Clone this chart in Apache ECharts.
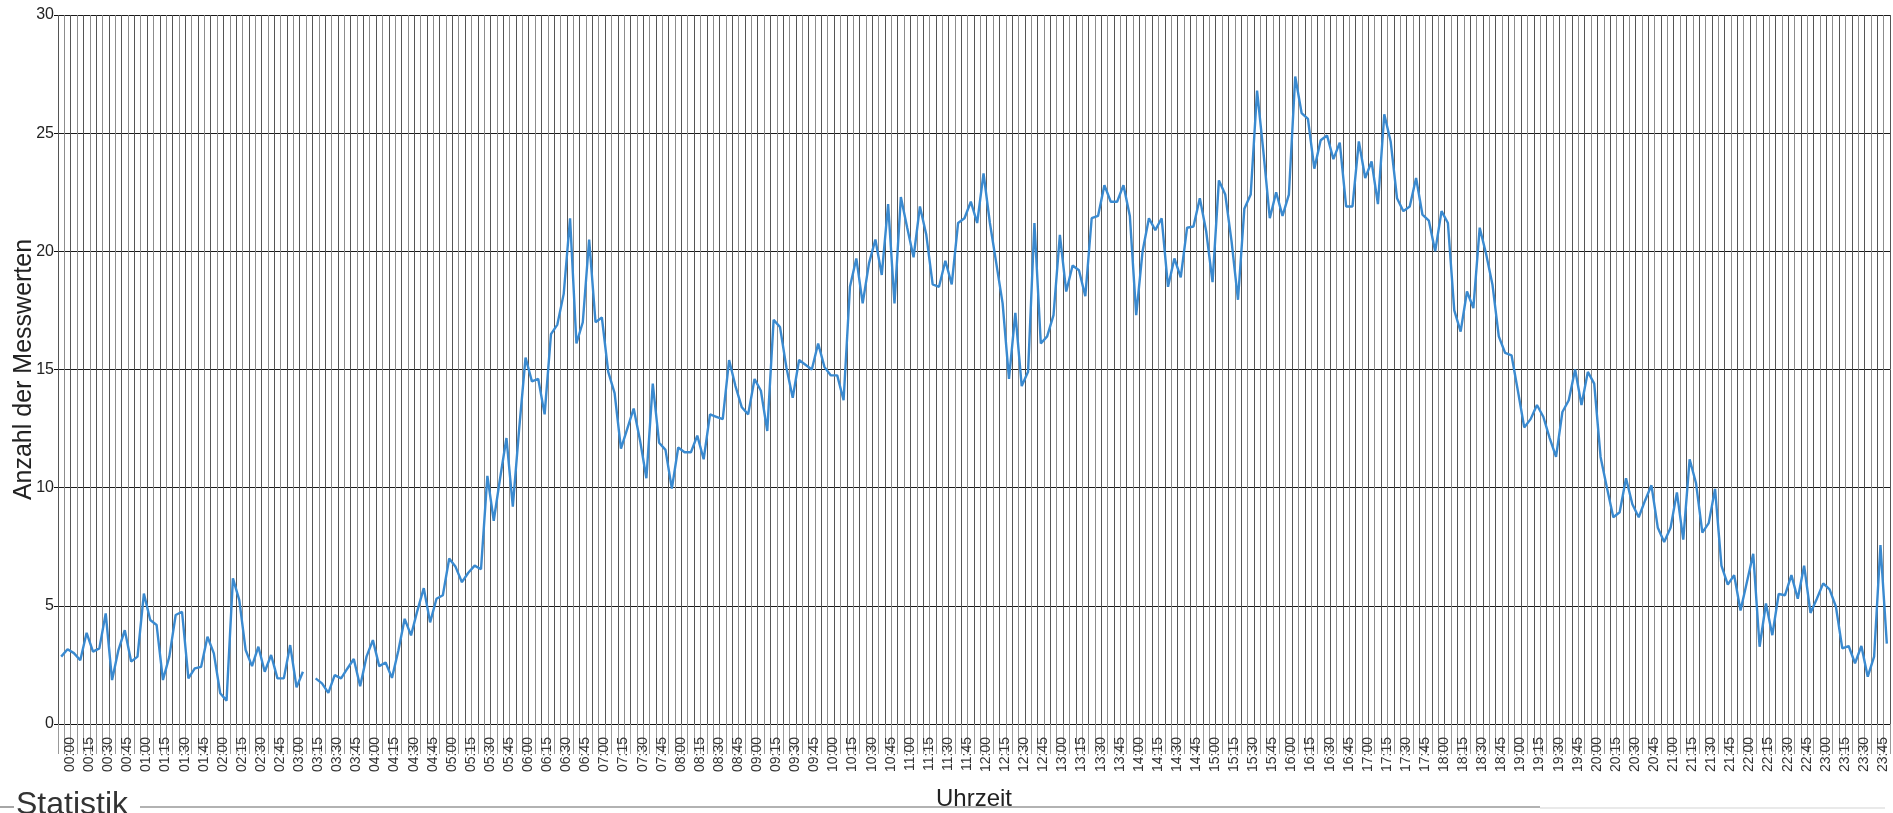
<!DOCTYPE html>
<html>
<head>
<meta charset="utf-8">
<script src="https://cdn.jsdelivr.net/npm/echarts@6/dist/echarts.min.js"></script>
<style>
  html, body { margin: 0; padding: 0; background: #fff; }
  #chart { width: 1893px; height: 813px; }
</style>
</head>
<body>
<div id="chart"></div>
<script>
const nachtWerte = [ // 00:00 - 05:55
  2.85, 3.16, 3.0, 2.7, 3.86, 3.06, 3.2, 4.68, 1.86, 3.13, 3.97, 2.64,
  2.85, 5.52, 4.4, 4.19, 1.86, 2.85, 4.61, 4.75, 1.93, 2.35, 2.42, 3.69,
  2.99, 1.3, 0.99, 6.16, 5.24, 3.13, 2.45, 3.27, 2.21, 2.92, 1.93, 1.93,
  3.34, 1.55, 2.21, null, 1.93, 1.72, 1.32, 2.07, 1.93, 2.35, 2.75, 1.6,
  2.85, 3.55, 2.45, 2.6, 1.95, 3.1, 4.45, 3.75, 4.8, 5.75, 4.3, 5.3,
  5.45, 7.0, 6.65, 6.0, 6.4, 6.7, 6.55, 10.5, 8.6, 10.4, 12.1, 9.2
];
const morgenWerte = [ // 06:00 - 11:55
  12.5, 15.5, 14.5, 14.6, 13.1, 16.5, 16.9, 18.2, 21.4, 16.1, 17.0, 20.5,
  17.0, 17.2, 14.9, 14.0, 11.65, 12.5, 13.35, 12.0, 10.4, 14.4, 11.9, 11.6,
  9.96, 11.7, 11.5, 11.5, 12.2, 11.2, 13.1, 13.0, 12.9, 15.4, 14.3, 13.4,
  13.1, 14.6, 14.1, 12.4, 17.1, 16.8, 15.1, 13.8, 15.4, 15.2, 15.0, 16.1,
  15.1, 14.75, 14.75, 13.7, 18.5, 19.7, 17.8, 19.5, 20.5, 19.0, 22.0, 17.8,
  22.3, 21.0, 19.75, 21.9, 20.7, 18.6, 18.5, 19.6, 18.6, 21.2, 21.4, 22.1
];
const mittagWerte = [ // 12:00 - 17:55
  21.2, 23.3, 21.2, 19.5, 17.8, 14.6, 17.4, 14.3, 14.9, 21.2, 16.1, 16.4,
  17.3, 20.7, 18.3, 19.4, 19.2, 18.1, 21.4, 21.5, 22.8, 22.1, 22.1, 22.8,
  21.5, 17.3, 20.0, 21.4, 20.9, 21.4, 18.5, 19.7, 18.9, 21.0, 21.05, 22.25,
  20.85, 18.7, 23.0, 22.4, 20.4, 17.95, 21.8, 22.4, 26.8, 24.2, 21.4, 22.5,
  21.5, 22.4, 27.4, 25.85, 25.6, 23.5, 24.7, 24.9, 23.9, 24.6, 21.9, 21.9,
  24.65, 23.1, 23.8, 22.0, 25.8, 24.65, 22.25, 21.7, 21.9, 23.1, 21.55, 21.3
];
const abendWerte = [ // 18:00 - 23:55
  20.0, 21.7, 21.2, 17.5, 16.6, 18.3, 17.6, 21.0, 19.9, 18.6, 16.4, 15.7,
  15.6, 14.1, 12.55, 12.9, 13.5, 13.0, 12.1, 11.3, 13.2, 13.7, 15.0, 13.5,
  14.9, 14.4, 11.3, 10.0, 8.75, 8.96, 10.4, 9.3, 8.75, 9.46, 10.1, 8.3,
  7.7, 8.3, 9.8, 7.8, 11.2, 10.2, 8.1, 8.5, 9.95, 6.7, 5.9, 6.3,
  4.8, 6.0, 7.2, 3.27, 5.1, 3.76, 5.5, 5.45, 6.3, 5.3, 6.7, 4.7,
  5.3, 5.95, 5.7, 4.96, 3.2, 3.3, 2.57, 3.3, 2.0, 2.85, 7.57, 3.4
];

// Uhrzeiten im 5-Minuten-Raster, beschriftet wird jede Viertelstunde
const zeiten = [];
for (let h = 0; h < 24; h++) {
  for (let m = 0; m < 60; m += 5) {
    zeiten.push(String(h).padStart(2, '0') + ':' + String(m).padStart(2, '0'));
  }
}

const werte = nachtWerte.concat(morgenWerte, mittagWerte, abendWerte);

const chart = echarts.init(document.getElementById('chart'));

const options = {
  animation: false,
  backgroundColor: '#fff',
  textStyle: { fontFamily: 'Liberation Sans, Arial, sans-serif' },
  grid: { left: 58, right: 3, top: 15, bottom: 89, outerBoundsMode: 'none' },
  xAxis: {
    type: 'category',
    data: zeiten,
    boundaryGap: true,
    name: 'Uhrzeit',
    nameLocation: 'middle',
    nameGap: 63,
    nameMoveOverlap: false,
    nameTextStyle: { fontSize: 24, color: '#222' },
    axisLine: { show: true, lineStyle: { color: '#111', width: 1 } },
    axisTick: { show: true, interval: 0, length: 30, lineStyle: { color: '#999' } },
    axisLabel: {
      interval: 2,
      rotate: 90,
      margin: 13,
      fontSize: 14,
      color: '#333',
      verticalAlign: 'top',
      lineHeight: 18
    },
    splitLine: {
      show: true,
      interval: 0,
      lineStyle: { color: ['#555', '#8c8c8c'], width: 1 }
    }
  },
  yAxis: {
    type: 'value',
    min: 0,
    max: 30,
    interval: 5,
    name: 'Anzahl der Messwerten',
    nameLocation: 'middle',
    nameGap: 21,
    nameMoveOverlap: false,
    nameTextStyle: { fontSize: 25, color: '#222' },
    axisLine: { show: false },
    axisTick: { show: true, length: 4, lineStyle: { color: '#111' } },
    axisLabel: { fontSize: 16, color: '#222', margin: 4 },
    splitLine: { lineStyle: { color: '#1a1a1a', width: 1 } }
  },
  series: [
    {
      name: 'Messwerte',
      type: 'line',
      data: werte,
      symbol: 'none',
      connectNulls: false,
      z: 5,
      lineStyle: { color: '#3a8ad0', width: 2.4 }
    }
  ],
  graphic: [
    { type: 'line', shape: { x1: 0, y1: 807, x2: 14, y2: 807 }, style: { stroke: '#888', lineWidth: 1.5 } },
    { type: 'line', shape: { x1: 140, y1: 807, x2: 1540, y2: 807 }, style: { stroke: '#999', lineWidth: 1.5 } },
    { type: 'line', shape: { x1: 1540, y1: 808, x2: 1885, y2: 808 }, style: { stroke: '#e2e2e2', lineWidth: 1.5 } },
    {
      type: 'text',
      left: 16,
      top: 789,
      style: { text: 'Statistik', font: '32px Liberation Sans, Arial, sans-serif', fill: '#333' }
    }
  ]
};

chart.setOption(options);
</script>
</body>
</html>
